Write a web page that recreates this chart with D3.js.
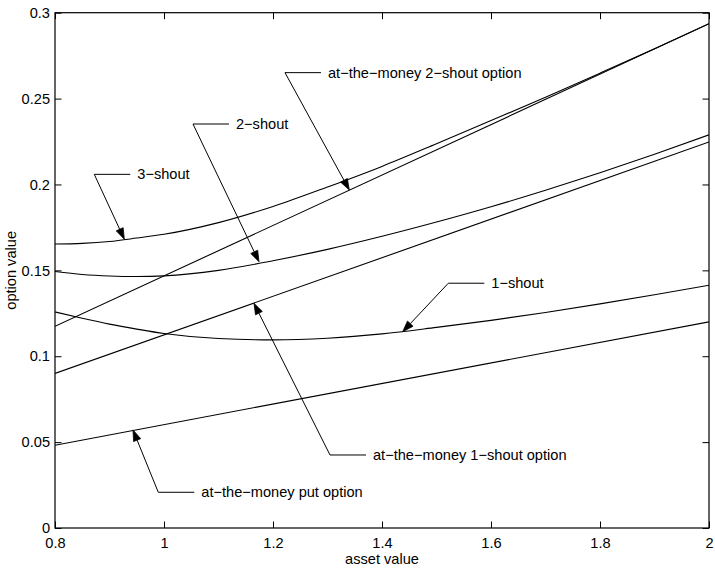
<!DOCTYPE html>
<html>
<head>
<meta charset="utf-8">
<script src="https://cdn.jsdelivr.net/npm/d3@7"></script>
<style>
  html, body { margin: 0; padding: 0; background: #fff; }
  svg { display: block; font-family: "Liberation Sans", Arial, Helvetica, sans-serif; }
</style>
</head>
<body>
<svg id="chart" width="715" height="570"></svg>
<script>
// Asset value grid for the curved series
const assetGrid = [0.8, 0.85, 0.9, 0.95, 1.0, 1.1, 1.2, 1.3, 1.4, 1.5, 1.6, 1.7, 1.8, 1.9, 2.0];

// Shout put option values (fixed strike)
const shout1 = [0.1258, 0.1221, 0.1187, 0.1158, 0.1132, 0.1103, 0.1095, 0.1105, 0.1130, 0.1168, 0.1209, 0.1255, 0.1305, 0.1358, 0.1413];
const shout2 = [0.1493, 0.1476, 0.1467, 0.1464, 0.1468, 0.1500, 0.1556, 0.1622, 0.1698, 0.1781, 0.1870, 0.1966, 0.2068, 0.2176, 0.2289];
const shout3 = [0.1653, 0.1657, 0.1668, 0.1688, 0.1710, 0.1778, 0.1872, 0.1985, 0.2105, 0.2237, 0.2372, 0.2508, 0.2648, 0.2790, 0.2936];

// At-the-money options (straight lines between the end points)
const atmAssets = [0.8, 2.0];
const atmPut = [0.0482, 0.1200];
const atm1Shout = [0.0900, 0.2247];
const atm2Shout = [0.1174, 0.2936];

// Axis ticks
const xTicks = [0.8, 1, 1.2, 1.4, 1.6, 1.8, 2];
const xTickLabels = ["0.8", "1", "1.2", "1.4", "1.6", "1.8", "2"];
const yTicks = [0, 0.05, 0.1, 0.15, 0.2, 0.25, 0.3];
const yTickLabels = ["0", "0.05", "0.1", "0.15", "0.2", "0.25", "0.3"];

// Annotation labels: elbow point, text, arrow tip (data units)
const annLabels = ["3\u2212shout", "2\u2212shout", "at\u2212the\u2212money 2\u2212shout option", "1\u2212shout", "at\u2212the\u2212money 1\u2212shout option", "at\u2212the\u2212money put option"];
const annElbowX = [0.8721, 1.0532, 1.2220, 1.5217, 1.3046, 0.9895];
const annElbowY = [0.2059, 0.2352, 0.2651, 0.1425, 0.0425, 0.0208];
const annTipX = [0.9272, 1.1743, 1.3400, 1.4380, 1.1651, 0.9431];
const annTipY = [0.1681, 0.1550, 0.1968, 0.1143, 0.1308, 0.0571];

const W = 715, H = 570;
const margin = { top: 12.7, right: 6, bottom: 42, left: 55 };
const svg = d3.select("#chart");

const x = d3.scaleLinear().domain([0.8, 2]).range([margin.left, W - margin.right]);
const y = d3.scaleLinear().domain([0, 0.3]).range([H - margin.bottom, margin.top]);

const tickLen = 6.5;
const fontSize = 14.6;

svg.append("defs").append("clipPath").attr("id", "plotClip")
  .append("rect")
  .attr("x", x.range()[0]).attr("y", y.range()[1])
  .attr("width", x.range()[1] - x.range()[0])
  .attr("height", y.range()[0] - y.range()[1]);

// Plot box
svg.append("rect")
  .attr("x", x.range()[0]).attr("y", y.range()[1])
  .attr("width", x.range()[1] - x.range()[0])
  .attr("height", y.range()[0] - y.range()[1])
  .attr("fill", "#fff").attr("stroke", "#000").attr("stroke-width", 1.2);

// Axes with inward ticks on all four sides
const axisStyle = g => {
  g.select(".domain").remove();
  g.selectAll(".tick line").attr("stroke", "#000").attr("stroke-width", 1);
  g.selectAll(".tick text").attr("fill", "#000").style("font-size", fontSize + "px")
    .style("font-family", "'Liberation Sans', Arial, sans-serif");
};

svg.append("g")
  .attr("transform", `translate(0,${y.range()[0]})`)
  .call(d3.axisBottom(x).tickValues(xTicks).tickSize(-tickLen).tickPadding(10)
    .tickFormat((d, i) => xTickLabels[i]))
  .call(axisStyle);

svg.append("g")
  .attr("transform", `translate(0,${y.range()[1]})`)
  .call(d3.axisTop(x).tickValues(xTicks).tickSize(-tickLen).tickFormat(""))
  .call(axisStyle);

svg.append("g")
  .attr("transform", `translate(${x.range()[0]},0)`)
  .call(d3.axisLeft(y).tickValues(yTicks).tickSize(-tickLen).tickPadding(5)
    .tickFormat((d, i) => yTickLabels[i]))
  .call(axisStyle);

svg.append("g")
  .attr("transform", `translate(${x.range()[1]},0)`)
  .call(d3.axisRight(y).tickValues(yTicks).tickSize(-tickLen).tickFormat(""))
  .call(axisStyle);

// Axis titles
svg.append("text")
  .attr("x", (x.range()[0] + x.range()[1]) / 2).attr("y", H - 6)
  .attr("text-anchor", "middle").style("font-size", fontSize + "px")
  .text("asset value");

svg.append("text")
  .attr("transform", `translate(16,${(y.range()[0] + y.range()[1]) / 2}) rotate(-90)`)
  .attr("text-anchor", "middle").style("font-size", fontSize + "px")
  .text("option value");

// Series
const plot = svg.append("g").attr("clip-path", "url(#plotClip)");
const curveLine = d3.line().x(d => x(d[0])).y(d => y(d[1])).curve(d3.curveMonotoneX);
const straight = d3.line().x(d => x(d[0])).y(d => y(d[1]));

[shout1, shout2, shout3].forEach(vals => {
  plot.append("path")
    .datum(assetGrid.map((a, i) => [a, vals[i]]))
    .attr("d", curveLine)
    .attr("fill", "none").attr("stroke", "#000").attr("stroke-width", 1.1);
});

[atmPut, atm1Shout, atm2Shout].forEach(vals => {
  plot.append("path")
    .datum(atmAssets.map((a, i) => [a, vals[i]]))
    .attr("d", straight)
    .attr("fill", "none").attr("stroke", "#000").attr("stroke-width", 1.1);
});

// Annotations: short horizontal leader, label, and arrow to the curve
const ann = svg.append("g");
const shelf = 36;
annLabels.forEach((label, i) => {
  const ex = x(annElbowX[i]), ey = y(annElbowY[i]);
  const tx = x(annTipX[i]), ty = y(annTipY[i]);
  ann.append("line")
    .attr("x1", ex).attr("y1", ey).attr("x2", ex + shelf).attr("y2", ey)
    .attr("stroke", "#000").attr("stroke-width", 1);
  ann.append("text")
    .attr("x", ex + shelf + 7).attr("y", ey).attr("dy", "0.35em")
    .style("font-size", fontSize + "px").attr("fill", "#000")
    .text(label);

  const ang = Math.atan2(ty - ey, tx - ex);
  const headLen = 11, headHalf = 3.8;
  const bx = tx - headLen * Math.cos(ang), by = ty - headLen * Math.sin(ang);
  ann.append("line")
    .attr("x1", ex).attr("y1", ey).attr("x2", bx).attr("y2", by)
    .attr("stroke", "#000").attr("stroke-width", 1);
  const px = -Math.sin(ang), py = Math.cos(ang);
  ann.append("path")
    .attr("d", `M${tx},${ty}L${bx + headHalf * px},${by + headHalf * py}L${bx - headHalf * px},${by - headHalf * py}Z`)
    .attr("fill", "#000").attr("stroke", "#000").attr("stroke-width", 0.8);
});
</script>
</body>
</html>
